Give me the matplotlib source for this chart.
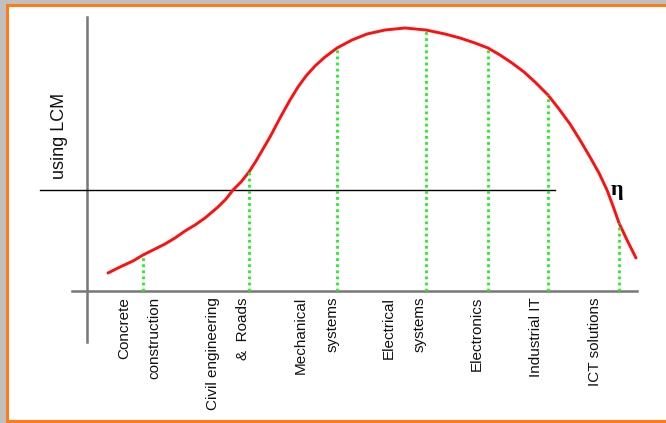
"""Efficiency curve across engineering disciplines (LCM sketch)."""

import matplotlib

matplotlib.use("Agg")
import matplotlib.pyplot as plt
import numpy as np
from matplotlib.patches import Rectangle

# curve, in chart units: x along the discipline axis, y = efficiency
curve_x = [21, 33, 46, 56, 68, 78, 88, 98, 108, 118,
           131, 139, 146, 154, 162, 169, 176, 183, 193, 203,
           211, 219, 228, 238, 250, 265, 280, 298, 318, 339,
           358, 373, 388, 401, 413, 425, 437, 448, 461, 472,
           483, 493, 503, 512, 520, 526, 532, 540, 549]
curve_y = [18, 24, 30, 36, 42, 47, 53, 60, 66, 73,
           84, 92, 101, 109, 119, 130, 142, 154, 173, 191,
           204, 215, 225, 234, 243, 251, 257, 261, 263, 261,
           257, 253, 248, 243, 236, 228, 219, 209, 196, 182,
           167, 151, 134, 118, 101, 85, 68, 51, 33]

# where each discipline sits on the curve
discipline_x = [56, 162, 250, 339, 401, 461, 532]

# label lines (rotated) and their x positions
label_lines = ["Concrete", "construction", "Civil engineering", "&  Roads",
               "Mechanical", "systems", "Electrical", "systems",
               "Electronics", "Industrial IT", "ICT solutions"]
label_x = [37, 67, 126, 156, 214, 246, 302, 333, 390, 449, 508]

threshold = 101


def main():
    fig = plt.figure(figsize=(6.66, 4.23), dpi=100, facecolor="#c0c0c0")
    fig.patches.append(Rectangle((7 / 666, 2 / 423), 670 / 666, 416 / 423,
                                 transform=fig.transFigure, facecolor="white",
                                 edgecolor="#ff7a1a", linewidth=2.2,
                                 zorder=-5))
    ax = fig.add_axes([0, 0, 1, 1])
    ax.set_xlim(-87, 579)
    ax.set_ylim(-132, 291)
    ax.axis("off")
    ax.patch.set_alpha(0)

    # axes drawn by hand, sketch style
    ax.plot([0, 0], [-51, 274], color="#777777", lw=1.8)
    ax.plot([-15, 550], [0, 0], color="#777777", lw=1.8)
    ax.plot([-47, 468], [threshold, threshold], color="black", lw=1)

    ax.plot(curve_x, curve_y, color="#ff1010", lw=2.1,
            solid_capstyle="round", solid_joinstyle="round")

    drop_y = np.interp(discipline_x, curve_x, curve_y)
    for x, y in zip(discipline_x, drop_y):
        ax.plot([x, x], [0, y], color="#22ee22", lw=2, ls=(0, (1, 1.2)))

    for x, txt in zip(label_x, label_lines):
        ax.text(x, -6, txt, rotation=90, ha="center", va="top",
                fontsize=11, family="Liberation Sans", color="#111111")

    ax.text(-27, 155, "using LCM", rotation=90, ha="center", va="center",
            fontsize=13, family="Liberation Sans", color="#111111")
    ax.text(530, 101, "η", ha="center", va="center", fontsize=16,
            fontweight="bold", family="Liberation Serif")

    fig.savefig("out.png", dpi=100, facecolor=fig.get_facecolor())


if __name__ == "__main__":
    main()
